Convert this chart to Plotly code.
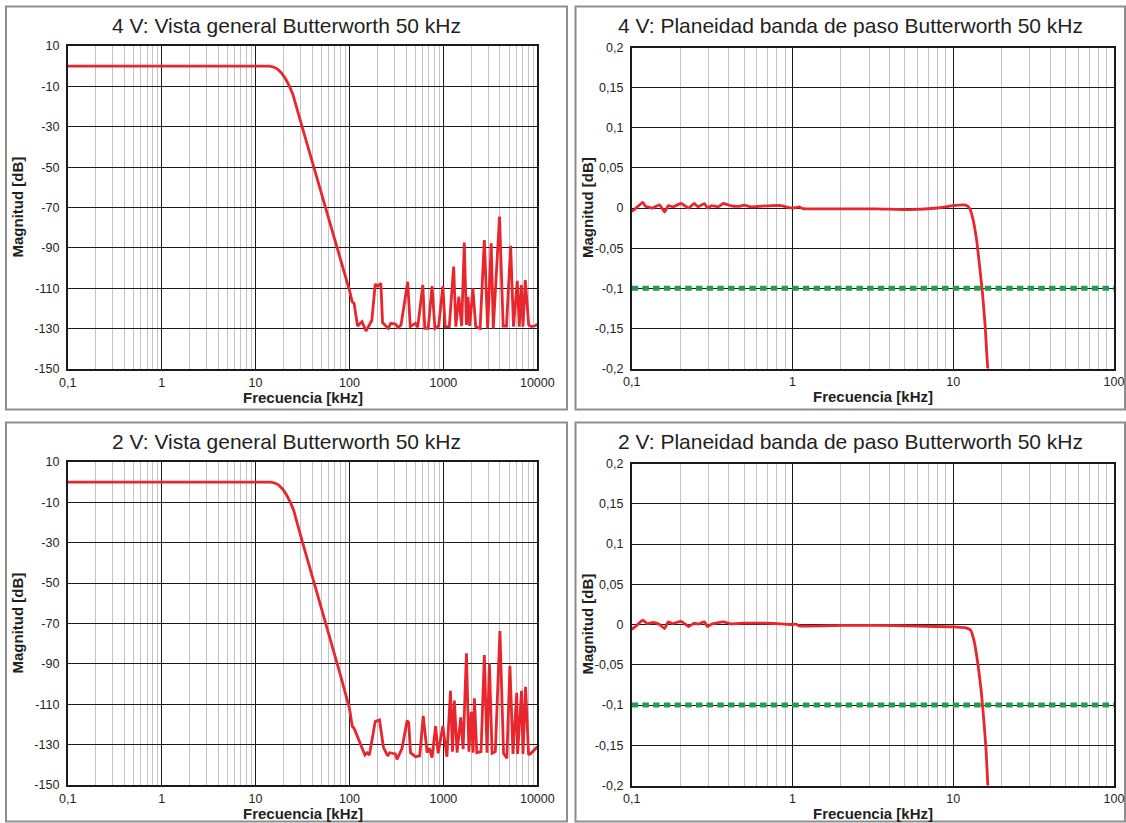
import plotly.graph_objects as go

# ---------------- DATA ----------------
# Overview 4 V (frequency in kHz, magnitude in dB)
ov4_freq = [0.1, 1, 10, 14, 15.5, 17, 19, 21, 23, 25, 30, 40, 50, 63, 80, 100,
            107, 112, 122, 136, 150, 173, 188, 200, 216, 225, 259, 275, 308, 330, 354,
            417, 444, 503, 533, 604, 634, 689, 757, 813, 891, 987, 1045, 1156, 1286,
            1357, 1460, 1565, 1670, 1760, 1830, 1906, 2060, 2210, 2460, 2730, 2960,
            3230, 3400, 3960, 4330, 4700, 5200, 5580, 6120, 6430, 6760, 7040, 7450,
            8100, 8660, 9300, 10000]
ov4_mag = [0, 0, 0, 0, -0.4, -1.3, -3.5, -6.5, -10, -14, -27, -47, -62.5, -78.5, -95, -111,
           -116.7, -117.5, -128.7, -126.6, -131.2, -126, -108, -109, -107.6, -127, -129.9, -127.4,
           -127.7, -129.5, -128.2, -106.8, -129, -127.4, -129.3, -108.4, -129.9, -129.9, -108.9,
           -129.9, -128.7, -108.9, -129, -129, -99.3, -129, -114.2, -128.7, -87.4, -128.2,
           -114.2, -128.7, -110, -129, -129.9, -86.1, -129.9, -87.7, -129.9, -74.5, -128.7,
           -128.7, -89, -129, -106.3, -129, -108.4, -129, -106, -128.2, -129, -128.7, -128]

# Overview 2 V
ov2_freq = [0.1, 1, 10, 14.5, 16, 17.5, 19.5, 21.5, 23.5, 25.5, 30, 40, 50, 63, 80, 100,
            107, 112, 146, 154, 163, 188, 209, 230, 255, 268, 308, 321, 350, 363, 411, 427,
            447, 505, 560, 610, 671, 710, 757, 826, 879, 987, 1090, 1190, 1250, 1310, 1400,
            1530, 1622, 1760, 1870, 1980, 2070, 2140, 2270, 2518, 2730, 2916, 3090, 3300,
            3574, 4000, 4370, 4740, 5110, 5510, 6040, 6166, 6800, 7040, 7500, 8080, 8570,
            9300, 10000]
ov2_mag = [0, 0, 0, 0, -0.4, -1.3, -3.5, -6.5, -10, -14, -26, -46, -62, -78.5, -95.5, -112,
           -120.8, -121.9, -135.1, -134, -135.1, -118.6, -117.8, -131.3, -135.6, -134, -134.6,
           -137.3, -133.5, -131.8, -118.1, -119.1, -134, -136, -135.6, -115.8, -134, -131.8,
           -136.4, -120.8, -134.3, -120.8, -136, -103.3, -133.5, -108.2, -134, -116.5, -132.3,
           -84.8, -133.5, -113.7, -134, -107, -134, -133.5, -85.6, -134, -89.7, -134.3, -133.5,
           -73.7, -134.3, -136.8, -91, -134.6, -104.3, -134.6, -103.3, -134.6, -101.3, -135.1,
           -134.3, -132.6, -131]

# Passband flatness 4 V
pb4_freq = [0.1, 0.104, 0.117, 0.122, 0.135, 0.149, 0.160, 0.169, 0.180, 0.203, 0.226,
            0.245, 0.259, 0.283, 0.296, 0.314, 0.346, 0.372, 0.409, 0.462, 0.5, 0.55, 0.617,
            0.75, 0.85, 0.95, 1.05, 1.1, 1.16, 2, 3.3, 5.4, 8, 10, 11.95, 12.6, 13.2, 14.0,
            14.6, 15.2, 15.8, 16.2, 16.4, 16.7]
pb4_mag = [-0.004, -0.002, 0.007, 0.002, 0.0, 0.004, -0.005, 0.003, 0.0015, 0.0056, 0.0,
           0.0056, 0.0015, 0.0056, 0.0, 0.003, 0.0015, 0.0056, 0.003, 0.002, 0.0035, 0.0015,
           0.002, 0.003, 0.003, 0.0005, 0.0005, 0.0015, -0.0008, -0.001, -0.001, -0.002, 0.0,
           0.003, 0.0035, 0.0, -0.012, -0.041, -0.073, -0.106, -0.147, -0.185, -0.2, -0.24]

# Passband flatness 2 V
pb2_freq = [0.1, 0.104, 0.117, 0.125, 0.137, 0.149, 0.160, 0.169, 0.180, 0.203, 0.226,
            0.245, 0.26, 0.283, 0.296, 0.314, 0.372, 0.41, 0.5, 0.68, 0.85, 1.0, 1.05, 1.1,
            2, 3.3, 6, 10, 11.8, 12.8, 13.5, 14.3, 14.9, 15.5, 16.0, 16.4, 16.7]
pb2_mag = [-0.006, -0.0037, 0.0053, 0.0012, 0.0025, 0.0, -0.005, 0.0032, 0.0012, 0.004,
           -0.0025, 0.0016, 0.0005, 0.0032, -0.0025, 0.0005, 0.0032, 0.0008, 0.0016, 0.0016,
           0.0008, 0.0, 0.0005, -0.0017, -0.001, -0.001, -0.002, -0.003, -0.004, -0.0068,
           -0.021, -0.052, -0.081, -0.119, -0.156, -0.199, -0.24]

# Limit line (-0.1 dB)
limit_freq = [0.1, 100]
limit_mag = [-0.1, -0.1]

# Tick labels
ov_xticks = [0.1, 1, 10, 100, 1000, 10000]
ov_xtext = ["0,1", "1", "10", "100", "1000", "10000"]
ov_yticks = [-150, -130, -110, -90, -70, -50, -30, -10, 10]
ov_ytext = ["-150", "-130", "-110", "-90", "-70", "-50", "-30", "-10", "10"]
pb_xticks = [0.1, 1, 10, 100]
pb_xtext = ["0,1", "1", "10", "100"]
pb_yticks = [-0.2, -0.15, -0.1, -0.05, 0, 0.05, 0.1, 0.15, 0.2]
pb_ytext = ["-0,2", "-0,15", "-0,1", "-0,05", "0", "0,05", "0,1", "0,15", "0,2"]

titles = ["4 V: Vista general Butterworth 50 kHz",
          "4 V: Planeidad banda de paso Butterworth 50 kHz",
          "2 V: Vista general Butterworth 50 kHz",
          "2 V: Planeidad banda de paso Butterworth 50 kHz"]
xlabel = "Frecuencia [kHz]"
ylabel = "Magnitud [dB]"

# ---------------- LAYOUT ----------------
W, H = 1126, 823
FONT = "Liberation Sans, Arial, Helvetica, sans-serif"
RED = "#e8262d"
GREEN = "#1f9e4e"
TXT = "#231f20"


def px_x(p):
    return p / W


def px_y(p):
    return 1 - p / H


def minor_vals(lo, hi):
    out = []
    for e in range(lo, hi):
        for m in range(2, 10):
            out.append(m * 10 ** e)
    return out


fig = go.Figure()

# plot area pixel boxes: (x0, x1, ytop, ybottom)
boxes = {
    1: (67.7, 537.3, 46, 369),
    2: (631.7, 1114, 47.5, 368.5),
    3: (67.7, 537.3, 462, 785),
    4: (631.7, 1114, 463.5, 785.5),
}

DASH = "6.5px,4.2px"
fig.add_trace(go.Scatter(x=ov4_freq, y=ov4_mag, mode="lines",
                         line=dict(color=RED, width=2.8), xaxis="x", yaxis="y"))
fig.add_trace(go.Scatter(x=limit_freq, y=limit_mag, mode="lines",
                         line=dict(color=GREEN, width=5, dash=DASH), xaxis="x2", yaxis="y2"))
fig.add_trace(go.Scatter(x=pb4_freq, y=pb4_mag, mode="lines",
                         line=dict(color=RED, width=2.8, shape="spline", smoothing=0.4),
                         xaxis="x2", yaxis="y2"))
fig.add_trace(go.Scatter(x=ov2_freq, y=ov2_mag, mode="lines",
                         line=dict(color=RED, width=2.8), xaxis="x3", yaxis="y3"))
fig.add_trace(go.Scatter(x=limit_freq, y=limit_mag, mode="lines",
                         line=dict(color=GREEN, width=5, dash=DASH), xaxis="x4", yaxis="y4"))
fig.add_trace(go.Scatter(x=pb2_freq, y=pb2_mag, mode="lines",
                         line=dict(color=RED, width=2.8, shape="spline", smoothing=0.4),
                         xaxis="x4", yaxis="y4"))

layout = dict(
    width=W, height=H, margin=dict(l=0, r=0, t=0, b=0, pad=0, autoexpand=False),
    paper_bgcolor="white", plot_bgcolor="white", showlegend=False,
    font=dict(family=FONT, size=12, color=TXT),
)

for i in range(1, 5):
    x0, x1, yt, yb = boxes[i]
    ov = i in (1, 3)
    xk = "xaxis" if i == 1 else f"xaxis{i}"
    yk = "yaxis" if i == 1 else f"yaxis{i}"
    layout[xk] = dict(
        type="log", domain=[px_x(x0), px_x(x1)],
        range=[-1, 4] if ov else [-1, 2],
        anchor="y" if i == 1 else f"y{i}",
        tickmode="array",
        tickvals=ov_xticks if ov else pb_xticks,
        ticktext=ov_xtext if ov else pb_xtext,
        showgrid=True, gridcolor="#1a1a1a", gridwidth=1.3,
        minor=dict(tickmode="array", tickvals=minor_vals(-1, 4 if ov else 2),
                   showgrid=True, gridcolor="#c4c4c4", gridwidth=1.3, ticks=""),
        showline=True, linecolor="#1a1a1a", linewidth=1.7, mirror=True,
        ticks="", ticklabelstandoff=1, zeroline=False, automargin=False,
        tickfont=dict(size=12.5, color=TXT, family=FONT),
        fixedrange=True,
    )
    layout[yk] = dict(
        domain=[px_y(yb), px_y(yt)],
        range=[-150, 10] if ov else [-0.2, 0.2],
        anchor="x" if i == 1 else f"x{i}",
        tickmode="array",
        tickvals=ov_yticks if ov else pb_yticks,
        ticktext=ov_ytext if ov else pb_ytext,
        showgrid=True, gridcolor="#1a1a1a", gridwidth=1.3,
        showline=True, linecolor="#1a1a1a", linewidth=1.7, mirror=True,
        ticks="", ticklabelstandoff=4, zeroline=False, automargin=False,
        tickfont=dict(size=12.5, color=TXT, family=FONT),
        fixedrange=True,
    )

fig.update_layout(**layout)

# panel frames
panels = [(6, 567, 6.5, 409.5), (575.5, 1125, 6.5, 409.5),
          (6, 567, 422.5, 821.5), (575.5, 1125, 422.5, 821.5)]
shapes = []
for (a, b, t, btm) in panels:
    shapes.append(dict(type="rect", xref="paper", yref="paper",
                       x0=px_x(a), x1=px_x(b), y0=px_y(btm), y1=px_y(t),
                       line=dict(color="#8e8e8e", width=2), fillcolor="rgba(0,0,0,0)",
                       layer="below"))
fig.update_layout(shapes=shapes)

annotations = []
title_pos = [(286.5, 25.5), (850, 25.5), (286.5, 442), (850, 442)]
for (cx, cy), t in zip(title_pos, titles):
    annotations.append(dict(text=t, x=px_x(cx), y=px_y(cy), xref="paper", yref="paper",
                            xanchor="center", yanchor="middle", showarrow=False,
                            font=dict(size=21, color=TXT, family=FONT)))
for i, (x0, x1, yt, yb) in boxes.items():
    annotations.append(dict(text=xlabel, x=px_x((x0 + x1) / 2), y=px_y(yb + 28),
                            xref="paper", yref="paper", xanchor="center", yanchor="middle",
                            showarrow=False,
                            font=dict(size=15, color=TXT, family=FONT, weight="bold")))
    lx = 17 if i in (1, 3) else 587
    annotations.append(dict(text=ylabel, x=px_x(lx), y=px_y((yt + yb) / 2),
                            xref="paper", yref="paper", xanchor="center", yanchor="middle",
                            textangle=-90, showarrow=False,
                            font=dict(size=15, color=TXT, family=FONT, weight="bold")))
fig.update_layout(annotations=annotations)

fig.write_html("out.html",
               post_script="document.body.style.margin='0px';"
                           "document.body.style.overflow='hidden';")
